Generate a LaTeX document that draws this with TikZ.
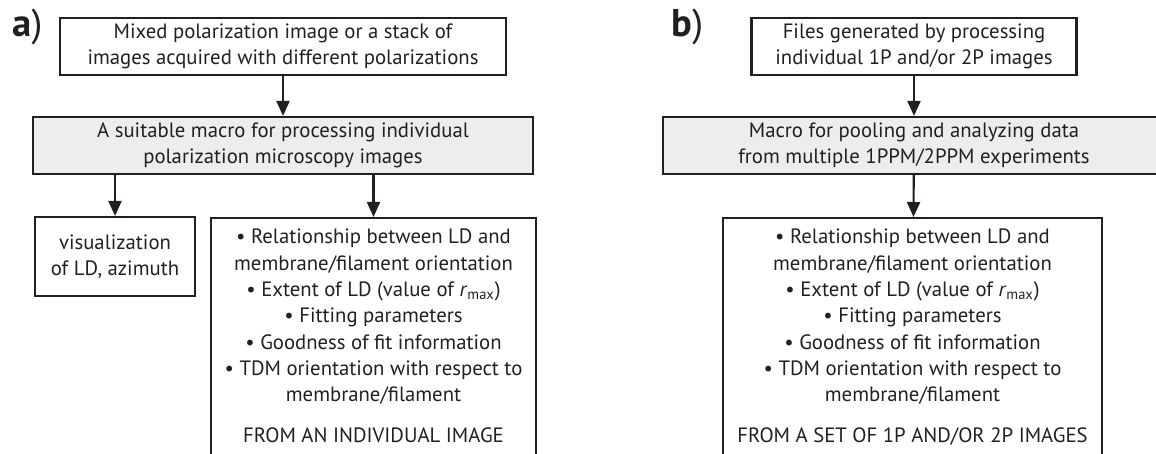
\documentclass[tikz,border=0pt]{standalone}
\usepackage{fontspec}
\setmainfont{PT Sans}
\usepackage{xcolor}
\definecolor{inkline}{HTML}{231F20}
\definecolor{macrofill}{HTML}{EDEDED}
\usetikzlibrary{arrows.meta}

\begin{document}
\begin{tikzpicture}[every node/.style={font=\fontsize{11.8}{15}\selectfont, text=inkline},
  inbox/.style={draw=inkline, line width=1.2pt, align=center, minimum height=1.14cm, inner sep=0pt},
  macrobox/.style={inbox, fill=macrofill},
  outbox/.style={draw=inkline, line width=1.2pt, align=center, anchor=north, inner xsep=0pt, inner ysep=0.22cm},
  flow/.style={draw=inkline, line width=1.2pt, -{Triangle[length=0.3cm,width=0.26cm]}},
  panel/.style={font=\fontsize{22}{22}\selectfont}]
\useasboundingbox (0,0) rectangle (23.12,9.06);
\clip (0,0) rectangle (23.12,9.06);
% panel a
\node[panel] (laba) at (0.55,8.52) {\textbf{a})};
\node[inbox, minimum width=8.92cm] (srca) at (5.66,8.13) {Mixed polarization image or a stack of\\images acquired with different polarizations};
\node[macrobox, minimum width=10.0cm] (macroa) at (5.66,6.15) {A suitable macro for processing individual\\polarization microscopy images};
\node[inbox, minimum width=3.2cm, minimum height=1.58cm] (visa) at (2.30,3.93) {visualization\\of LD, azimuth};
\node[outbox, minimum width=6.5cm] (resa) at (7.47,4.72) {%
  • Relationship between LD and\\
  membrane/filament orientation\\
  • Extent of LD (value of \textit{r}\textsubscript{max})\\
  • Fitting parameters\\
  • Goodness of fit information\\
  • TDM orientation with respect to\\
  membrane/filament\\[8pt]
  FROM AN INDIVIDUAL IMAGE\rule[-0.6cm]{0pt}{0.1cm}};
\draw[flow] (srca) -- (macroa);
\draw[flow] (macroa.south -| visa.north) -- (visa.north);
\draw[flow] (macroa.south -| resa.north) -- (resa.north);
% panel b
\node[panel] (labb) at (13.75,8.52) {\textbf{b})};
\node[inbox, minimum width=6.5cm] (srcb) at (18.28,8.13) {Files generated by processing\\individual 1P and/or 2P images};
\node[macrobox, minimum width=10.04cm] (macrob) at (18.28,6.15) {Macro for pooling and analyzing data\\from multiple 1PPM/2PPM experiments};
\node[outbox, minimum width=7.58cm] (resb) at (18.25,4.72) {%
  • Relationship between LD and\\
  membrane/filament orientation\\
  • Extent of LD (value of \textit{r}\textsubscript{max})\\
  • Fitting parameters\\
  • Goodness of fit information\\
  • TDM orientation with respect to\\
  membrane/filament\\[8pt]
  FROM A SET OF 1P AND/OR 2P IMAGES\rule[-0.6cm]{0pt}{0.1cm}};
\draw[flow] (srcb) -- (macrob);
\draw[flow] (macrob) -- (resb);
\end{tikzpicture}
\end{document}
